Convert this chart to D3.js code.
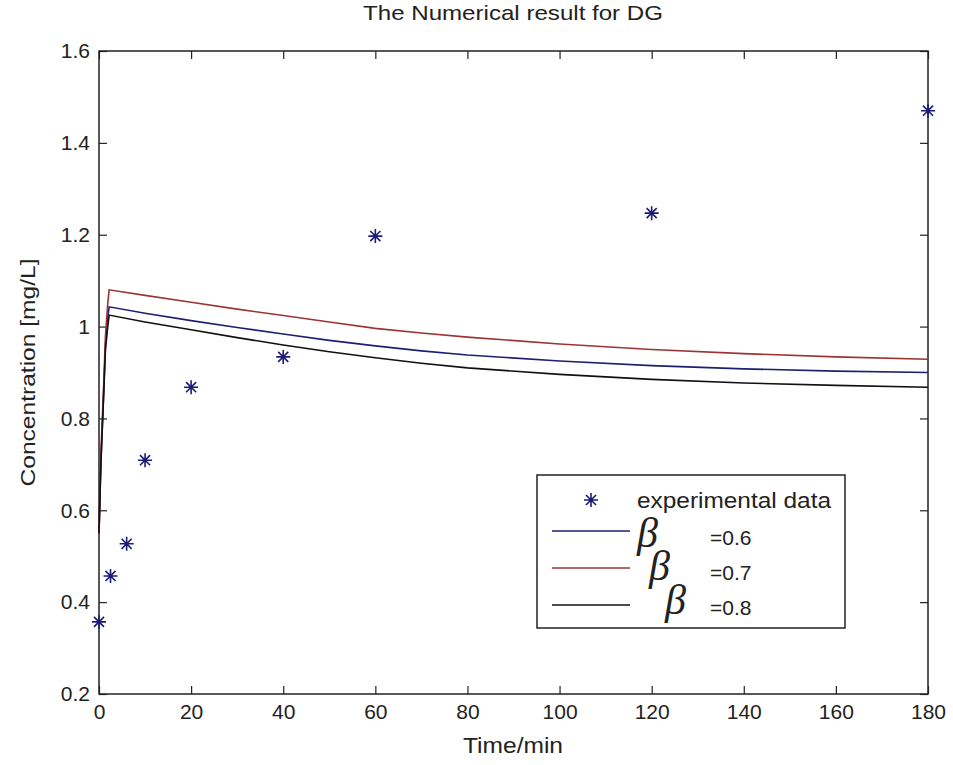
<!DOCTYPE html>
<html>
<head>
<meta charset="utf-8">
<script src="https://cdn.jsdelivr.net/npm/d3@7"></script>
<style>
  body { margin: 0; background: #fff; }
  svg text { font-family: "Liberation Sans", Arial, sans-serif; fill: #222; }
</style>
</head>
<body>
<div id="chart"></div>
<script>
"use strict";

// Experimental measurements (time in min, concentration in mg/L)
var expTimes = [0, 2.5, 6, 10, 20, 40, 60, 120, 180];
var expValues = [0.357, 0.457, 0.527, 0.709, 0.868, 0.934, 1.197, 1.247, 1.47];

// Model curves
var curveTimes = [0, 0.4, 1.0, 1.4, 1.9, 2.2, 10, 20, 30, 40, 50, 60, 70, 80, 100, 120, 140, 160, 180];
var beta06 = [0.55, 0.70, 0.85, 0.96, 1.02, 1.043, 1.029, 1.013, 0.998, 0.984, 0.970, 0.958, 0.947, 0.938, 0.925, 0.915, 0.908, 0.903, 0.900];
var beta07 = [0.55, 0.72, 0.87, 0.98, 1.05, 1.080, 1.068, 1.053, 1.038, 1.024, 1.010, 0.996, 0.986, 0.977, 0.962, 0.950, 0.941, 0.934, 0.929];
var beta08 = [0.55, 0.70, 0.85, 0.95, 1.00, 1.025, 1.010, 0.993, 0.976, 0.960, 0.945, 0.932, 0.920, 0.910, 0.896, 0.885, 0.877, 0.872, 0.868];

var xTicks = [0, 20, 40, 60, 80, 100, 120, 140, 160, 180];
var yTicks = [0.2, 0.4, 0.6, 0.8, 1.0, 1.2, 1.4, 1.6];

var legendLabels = ["=0.6", "=0.7", "=0.8"];
var seriesColors = ["#1f1f72", "#9c3434", "#111111"];
var starColor = "#1c1c78";

var width = 953, height = 765;
var plot = { left: 99, right: 928, top: 51, bottom: 694 };

var svg = d3.select("#chart").append("svg")
  .attr("width", width)
  .attr("height", height);

var x = d3.scaleLinear().domain([0, 180]).range([plot.left, plot.right]);
var y = d3.scaleLinear().domain([0.2, 1.6]).range([plot.bottom, plot.top]);

var fmtY = function (d) { return d === 1 ? "1" : d3.format(".1f")(d); };

// axes: MATLAB style, ticks pointing inwards on all four sides
var tickLen = 8;
svg.append("g")
  .attr("transform", "translate(0," + plot.bottom + ")")
  .call(d3.axisBottom(x).tickValues(xTicks).tickSizeInner(-tickLen).tickSizeOuter(0).tickPadding(12))
  .call(function (g) {
    g.select(".domain").remove();
    g.selectAll("text").attr("font-size", 21).attr("dy", "0.71em").attr("y", 10).attr("fill", "#222");
  });
svg.append("g")
  .attr("transform", "translate(0," + plot.top + ")")
  .call(d3.axisTop(x).tickValues(xTicks).tickSizeInner(-tickLen).tickSizeOuter(0).tickFormat(""))
  .call(function (g) { g.select(".domain").remove(); });
svg.append("g")
  .attr("transform", "translate(" + plot.left + ",0)")
  .call(d3.axisLeft(y).tickValues(yTicks).tickFormat(fmtY).tickSizeInner(-tickLen).tickSizeOuter(0).tickPadding(9))
  .call(function (g) {
    g.select(".domain").remove();
    g.selectAll("text").attr("font-size", 21).attr("x", -9).attr("fill", "#222");
  });
svg.append("g")
  .attr("transform", "translate(" + plot.right + ",0)")
  .call(d3.axisRight(y).tickValues(yTicks).tickSizeInner(-tickLen).tickSizeOuter(0).tickFormat(""))
  .call(function (g) { g.select(".domain").remove(); });

svg.selectAll(".tick line").attr("stroke", "#222").attr("stroke-width", 1.2);

svg.append("rect")
  .attr("x", plot.left).attr("y", plot.top)
  .attr("width", plot.right - plot.left).attr("height", plot.bottom - plot.top)
  .attr("fill", "none").attr("stroke", "#222").attr("stroke-width", 1.5);

// model curves
var line = d3.line()
  .x(function (d) { return x(d[0]); })
  .y(function (d) { return y(d[1]); });

[beta06, beta07, beta08].forEach(function (vals, i) {
  svg.append("path")
    .datum(curveTimes.map(function (t, j) { return [t, vals[j]]; }))
    .attr("d", line)
    .attr("fill", "none")
    .attr("stroke", seriesColors[i])
    .attr("stroke-width", 1.6);
});

// asterisk marker
var drawStar = function (g, cx, cy, r) {
  var d = "M" + (cx - r) + "," + cy + "H" + (cx + r) +
    "M" + cx + "," + (cy - r) + "V" + (cy + r);
  var k = r * 0.72;
  d += "M" + (cx - k) + "," + (cy - k) + "L" + (cx + k) + "," + (cy + k) +
    "M" + (cx - k) + "," + (cy + k) + "L" + (cx + k) + "," + (cy - k);
  g.append("path").attr("d", d).attr("stroke", starColor).attr("stroke-width", 1.6).attr("fill", "none");
};

var stars = svg.append("g");
expTimes.forEach(function (t, i) {
  drawStar(stars, x(t), y(expValues[i]), 7);
});

// title and axis labels
svg.append("text")
  .attr("x", 513).attr("y", 20)
  .attr("text-anchor", "middle")
  .attr("font-size", 21)
  .attr("textLength", 300)
  .attr("lengthAdjust", "spacingAndGlyphs")
  .text("The Numerical result for DG");

svg.append("text")
  .attr("x", 513).attr("y", 753)
  .attr("text-anchor", "middle")
  .attr("font-size", 22)
  .attr("textLength", 100)
  .attr("lengthAdjust", "spacingAndGlyphs")
  .text("Time/min");

svg.append("text")
  .attr("transform", "translate(35," + ((plot.top + plot.bottom) / 2) + ") rotate(-90)")
  .attr("text-anchor", "middle")
  .attr("font-size", 21)
  .attr("textLength", 228)
  .attr("lengthAdjust", "spacingAndGlyphs")
  .text("Concentration [mg/L]");

// legend
var legend = svg.append("g");
legend.append("rect")
  .attr("x", 537).attr("y", 475).attr("width", 308).attr("height", 153)
  .attr("fill", "#fff").attr("stroke", "#222").attr("stroke-width", 1.5);

drawStar(legend, 591, 500, 7);
legend.append("text")
  .attr("x", 637).attr("y", 508)
  .attr("font-size", 22)
  .attr("textLength", 194)
  .attr("lengthAdjust", "spacingAndGlyphs")
  .text("experimental data");

var legendRows = [
  { lineY: 531, betaX: 637, betaY: 547, labelY: 545 },
  { lineY: 568, betaX: 649, betaY: 580, labelY: 580 },
  { lineY: 605, betaX: 665, betaY: 614, labelY: 615 }
];

legendRows.forEach(function (row, i) {
  legend.append("line")
    .attr("x1", 552).attr("x2", 630)
    .attr("y1", row.lineY).attr("y2", row.lineY)
    .attr("stroke", seriesColors[i]).attr("stroke-width", 1.6);
  legend.append("text")
    .attr("x", row.betaX).attr("y", row.betaY)
    .attr("font-size", 42)
    .attr("font-style", "italic")
    .style("font-family", "'Liberation Serif', 'DejaVu Serif', serif")
    .text("\u03B2");
  legend.append("text")
    .attr("x", 710).attr("y", row.labelY)
    .attr("font-size", 21)
    .text(legendLabels[i]);
});
</script>
</body>
</html>
